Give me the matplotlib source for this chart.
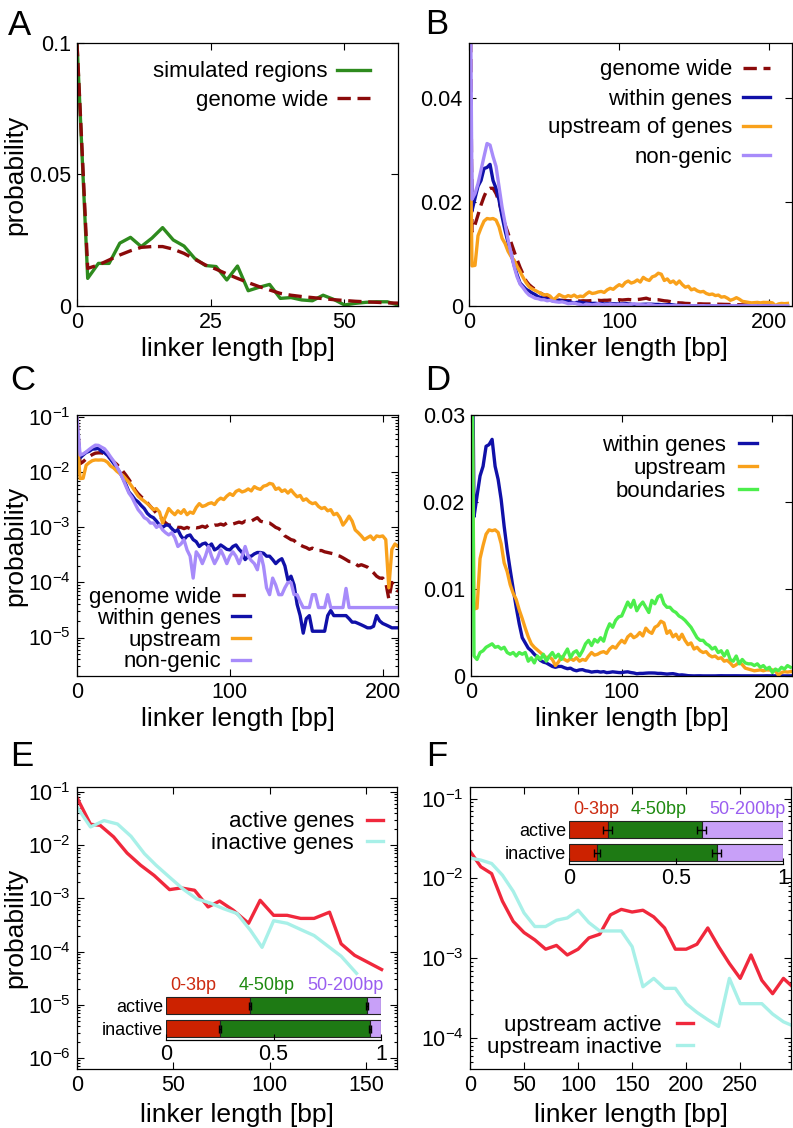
import numpy as np
import matplotlib
matplotlib.use('Agg')
import matplotlib.pyplot as plt
from matplotlib.ticker import MultipleLocator, FuncFormatter

plt.rcParams['font.family'] = ['Liberation Sans', 'DejaVu Sans']
plt.rcParams['mathtext.fontset'] = 'custom'
plt.rcParams['mathtext.rm'] = 'Liberation Sans'
plt.rcParams['axes.unicode_minus'] = False
plt.rcParams['axes.linewidth'] = 0.9

# ---- data ----
# panel A: simulated regions vs genome wide (2 bp bins)
sim_bp = np.arange(0, 61, 2)
simulated = [0.1, 0.0105, 0.0162, 0.0162, 0.0239, 0.0261, 0.0226, 0.0258, 0.0298, 0.0251,
             0.0228, 0.0181, 0.0154, 0.015, 0.0099, 0.0152, 0.0058, 0.0071, 0.0082, 0.0029,
             0.0032, 0.0023, 0.002, 0.0041, 0.0025, 0.0004, 0.001, 0.0014, 0.0016, 0.0016, 0.0004]

# panels B-D: linker length distributions (2 bp bins)
linker_bp = np.arange(0, 213, 2)
genome_wide = [0.1, 0.0143, 0.0156, 0.0175, 0.0194, 0.021, 0.0223, 0.0226, 0.0226, 0.0216,
               0.02, 0.0178, 0.0156, 0.014, 0.0122, 0.0105, 0.0089, 0.0074, 0.0061, 0.0048,
               0.0041, 0.0036, 0.0032, 0.0028, 0.0024, 0.0021, 0.0018, 0.0016, 0.0014, 0.0012,
               0.0011, 0.0011, 0.00105, 0.001, 0.001, 0.00095, 0.001, 0.00095, 0.001, 0.00098,
               0.001, 0.00105, 0.001, 0.0011, 0.00105, 0.0011, 0.0011, 0.00115, 0.0011, 0.0012,
               0.0012, 0.00115, 0.0012, 0.00125, 0.0012, 0.0013, 0.00125, 0.0013, 0.0014, 0.0015,
               0.0013, 0.00125, 0.0012, 0.0012, 0.0011, 0.001, 0.00095, 0.00085, 0.0007, 0.00065,
               0.0006, 0.00058, 0.0005, 0.00048, 0.00045, 0.00043, 0.0004, 0.00042, 0.00039, 0.00038,
               0.00038, 0.00036, 0.00035, 0.00034, 0.00033, 0.00031, 0.0003, 0.00028, 0.00026, 0.00024,
               0.00024, 0.00022, 0.0002, 0.00021, 0.0002, 0.00019, 0.00017, 0.00015, 0.00013, 0.00012,
               0.00012, 0.0001, 0.00005, 0.0001, 0.00008, 0.00007, 0.00007]
within_genes = [0.06, 0.0183, 0.0207, 0.023, 0.0241, 0.0264, 0.0266, 0.0272, 0.0241, 0.0226,
                0.0203, 0.0172, 0.0145, 0.0122, 0.01, 0.0079, 0.006, 0.0044, 0.0038, 0.0032,
                0.0029, 0.0025, 0.0022, 0.0018, 0.0016, 0.0015, 0.0013, 0.0011, 0.001, 0.0011,
                0.0011, 0.00095, 0.00084, 0.0009, 0.0007, 0.0006, 0.0007, 0.00073, 0.0006, 0.00055,
                0.00045, 0.0005, 0.00052, 0.00045, 0.0005, 0.00039, 0.00042, 0.00048, 0.00044, 0.0004,
                0.00039, 0.00045, 0.00048, 0.0004, 0.00035, 0.00026, 0.0003, 0.0003, 0.00033, 0.00035,
                0.00035, 0.00034, 0.0003, 0.0003, 0.00026, 0.00022, 0.00025, 0.00027, 0.0002, 0.00011,
                0.00013, 0.00009, 0.00004, 0.000025, 0.000012, 0.000022, 0.000025, 0.000013, 0.000013, 0.000013,
                0.000013, 0.000013, 0.000025, 0.000031, 0.000025, 0.000025, 0.000025, 0.000025, 0.000025, 0.000022,
                0.000019, 0.000019, 0.000018, 0.000017, 0.000016, 0.000015, 0.000015, 0.000016, 0.000025, 0.00002,
                0.000018, 0.000017, 0.000016, 0.000015, 0.000015, 0.000015, 0.000015]
upstream = [0.05, 0.0077, 0.0078, 0.0135, 0.015, 0.0163, 0.0168, 0.0167, 0.0168, 0.0165,
            0.0152, 0.013, 0.012, 0.0105, 0.0095, 0.0088, 0.0076, 0.0066, 0.0055, 0.0045,
            0.0037, 0.0033, 0.003, 0.0027, 0.0024, 0.0021, 0.0022, 0.0019, 0.0012, 0.0016,
            0.0022, 0.0019, 0.0017, 0.002, 0.0018, 0.0021, 0.0017, 0.0019, 0.0018, 0.0023,
            0.0027, 0.0024, 0.0025, 0.0027, 0.0028, 0.0026, 0.0031, 0.0034, 0.0032, 0.0037,
            0.0041, 0.0038, 0.0045, 0.0048, 0.0044, 0.0046, 0.005, 0.0046, 0.0055, 0.0051,
            0.0049, 0.0056, 0.0058, 0.0063, 0.0061, 0.0049, 0.0052, 0.0045, 0.0048, 0.0042,
            0.0048, 0.0041, 0.0036, 0.0038, 0.0031, 0.0033, 0.0029, 0.0027, 0.0028, 0.0024,
            0.0022, 0.0023, 0.002, 0.0021, 0.0017, 0.0018, 0.0015, 0.0011, 0.0013, 0.0016,
            0.0013, 0.0009, 0.0008, 0.0007, 0.0006, 0.00065, 0.0007, 0.0006, 0.0007, 0.00068,
            0.0007, 0.0006, 0.00008, 0.0004, 0.0005, 0.00045, 0.0005]
non_genic = [0.1, 0.0205, 0.0216, 0.0235, 0.0261, 0.0287, 0.0312, 0.0309, 0.0287, 0.0268,
             0.0229, 0.019, 0.0159, 0.0127, 0.0101, 0.0076, 0.0056, 0.0042, 0.0035, 0.0027,
             0.0021, 0.0018, 0.0015, 0.0014, 0.0012, 0.0012, 0.001, 0.0011, 0.0009, 0.0008,
             0.00073, 0.0008, 0.00065, 0.00045, 0.0005, 0.0006, 0.00039, 0.0003, 0.00012, 0.00036,
             0.0003, 0.00022, 0.0003, 0.00045, 0.0003, 0.00022, 0.00028, 0.00039, 0.0003, 0.00022,
             0.0003, 0.00036, 0.0003, 0.00022, 0.0003, 0.00045, 0.0003, 0.00025, 0.00022, 0.00017,
             0.00034, 0.0002, 0.00008, 0.00006, 0.00012, 0.00009, 0.00006, 0.00006, 0.00008, 0.0001,
             0.0001, 0.00006, 0.00006, 0.000045, 0.000035, 0.000035, 0.000035, 0.00006, 0.00006, 0.000035,
             0.000035, 0.000035, 0.00006, 0.000035, 0.000035, 0.000035, 0.000035, 0.000035, 0.000078, 0.000035,
             0.000035, 0.000035, 0.000035, 0.000035, 0.000035, 0.000035, 0.000035, 0.000035, 0.000035, 0.000035,
             0.000035, 0.000035, 0.000035, 0.000035, 0.000035, 0.000035, 0.000035]
boundaries = [0.06, 0.0023, 0.0019, 0.0027, 0.0029, 0.0033, 0.0035, 0.0037, 0.0033, 0.0034,
              0.0031, 0.0033, 0.0027, 0.0025, 0.0027, 0.0023, 0.0027, 0.0025, 0.0027, 0.0017,
              0.0021, 0.0015, 0.0023, 0.0019, 0.0025, 0.0017, 0.0023, 0.0027, 0.0021, 0.0025,
              0.0019, 0.0025, 0.0031, 0.0021, 0.0027, 0.0029, 0.0023, 0.0029, 0.0037, 0.0041,
              0.0035, 0.0042, 0.0039, 0.0044, 0.004, 0.0052, 0.006, 0.0056, 0.0064, 0.0068,
              0.0069, 0.0077, 0.0085, 0.0079, 0.0087, 0.0075, 0.0081, 0.0085, 0.0079, 0.0073,
              0.0087, 0.0083, 0.0091, 0.0093, 0.0083, 0.0079, 0.0079, 0.0075, 0.0073, 0.0069,
              0.0067, 0.0064, 0.006, 0.0056, 0.005, 0.0044, 0.0041, 0.0041, 0.0037, 0.0035,
              0.0031, 0.0033, 0.0027, 0.0029, 0.0023, 0.0029, 0.0019, 0.0017, 0.0023, 0.0014,
              0.0019, 0.0015, 0.0014, 0.0014, 0.0012, 0.0014, 0.001, 0.0012, 0.0008, 0.001,
              0.0004, 0.0008, 0.0006, 0.001, 0.0008, 0.0012, 0.001]

# panel E: active / inactive genes
active_bp = [0, 7, 12, 19, 26, 33, 40, 48, 54, 61, 68, 74, 81, 89, 95, 102, 109, 116, 123, 131, 137, 144, 158]
active_genes = [0.078, 0.0247, 0.0236, 0.0143, 0.0071, 0.0042, 0.0027, 0.00146, 0.00157, 0.00142,
                0.00069, 0.00089, 0.0006, 0.00034, 0.00092, 0.00048, 0.00048, 0.00042, 0.00042, 0.00055,
                0.00014, 0.000085, 0.000046]
inactive_bp = [0, 7, 14, 21, 28, 35, 41, 48, 55, 62, 69, 76, 83, 90, 96, 102, 109, 116, 123, 131, 137, 145]
inactive_genes = [0.052, 0.022, 0.029, 0.025, 0.0147, 0.0069, 0.0042, 0.0025, 0.0015, 0.00098,
                  0.00082, 0.00064, 0.00052, 0.00025, 0.00012, 0.00038, 0.00034, 0.00026, 0.0002, 0.00012,
                  0.000082, 0.000039]

# panel F: upstream of active / inactive genes (10 bp bins)
up_bp = np.arange(0, 301, 10)
up_active = [0.022, 0.014, 0.0115, 0.0052, 0.0029, 0.0021, 0.0017, 0.0013, 0.00145, 0.0011,
             0.0013, 0.0018, 0.002, 0.0035, 0.0041, 0.0038, 0.004, 0.0033, 0.0024, 0.0013,
             0.0013, 0.0015, 0.0024, 0.0014, 0.00086, 0.00056, 0.0011, 0.00053, 0.00036, 0.00056, 0.00042]
up_inactive = [0.018, 0.017, 0.0154, 0.011, 0.0069, 0.0037, 0.0025, 0.0025, 0.003, 0.0032,
               0.004, 0.0028, 0.0022, 0.0022, 0.0022, 0.0014, 0.00044, 0.00056, 0.00042, 0.00042,
               0.00027, 0.00021, 0.00017, 0.00014, 0.00056, 0.00027, 0.00027, 0.00027, 0.0002, 0.00016, 0.00014]

# insets: fraction of linkers per length class (rows: active, inactive)
bin_labels = ['0-3bp', '4-50bp', '50-200bp']
row_labels = ['active', 'inactive']
genes_frac = [[0.39, 0.25], [0.546, 0.70], [0.064, 0.05]]
genes_err = [[0.004, 0.004], [0.004, 0.004]]
upstream_frac = [[0.18, 0.13], [0.44, 0.56], [0.38, 0.31]]
upstream_err = [[0.019, 0.014], [0.02, 0.02]]

# ---- colours ----
c_sim = '#2e8b1e'
c_gw = '#8b0a0a'
c_wg = '#1010a8'
c_up = '#f9a11b'
c_ng = '#a78bfa'
c_bd = '#4cee4c'
c_act = '#f0283c'
c_ina = '#a8f0e8'
bar_colors = ['#cc2200', '#1e7a14', '#c8a0f8']
bin_text_colors = ['#cc2a10', '#1e8a10', '#9a5ef0']

W, H = 793, 1128
fig = plt.figure(figsize=(W / 100, H / 100), dpi=100)
LW = 2.4
DASH = (0, (4, 2))
fmt = FuncFormatter(lambda v, p: '%g' % v)


def box(l, t, r, b):
    return [l / W, 1 - b / H, (r - l) / W, (b - t) / H]


def style(ax, xstep, ylab=True, xlab_off=31):
    ax.tick_params(which='both', direction='in', top=True, right=True,
                   labelsize=15.5, width=0.8, pad=4.5)
    ax.tick_params(which='major', length=5)
    ax.tick_params(which='minor', length=2.5)
    ax.xaxis.set_major_locator(MultipleLocator(xstep))
    ax.xaxis.set_major_formatter(fmt)
    h = ax.get_position().height * H
    ax.set_xlabel('linker length [bp]', fontsize=19)
    ax.xaxis.set_label_coords(0.5, -xlab_off / h)
    if ylab:
        w = ax.get_position().width * W
        ax.set_ylabel('probability', fontsize=19)
        ax.yaxis.set_label_coords(-50 / w, 0.5)


def legend(ax, xr, yt, hl, pad, sp):
    ax.legend(loc='upper right', bbox_to_anchor=(xr / W, 1 - yt / H),
              bbox_transform=fig.transFigure, frameon=False, markerfirst=False,
              fontsize=16, handlelength=hl, handletextpad=pad, labelspacing=sp,
              borderpad=0, borderaxespad=0)


def letter(x, y, s):
    fig.text(x / W, 1 - y / H, s, fontsize=25, va='baseline', ha='left')


def inset(rect, frac, err, label_x):
    ia = fig.add_axes(rect)
    ia.patch.set_alpha(0)
    rows = [1, 0]
    left = np.zeros(2)
    for vals, col in zip(frac, bar_colors):
        ia.barh(rows, vals, left=left, height=0.74, color=col,
                edgecolor='#222222', linewidth=0.8)
        left = left + np.array(vals)
    bound1 = np.array(frac[0])
    bound2 = bound1 + np.array(frac[1])
    for bnd, e in zip([bound1, bound2], err):
        ia.errorbar(bnd, rows, xerr=e, fmt='none', ecolor='black',
                    elinewidth=1, capsize=3, capthick=1)
    for lab, col, (xx, ha) in zip(bin_labels, bin_text_colors, label_x):
        ia.text(xx, 1.85, lab, color=col, fontsize=13, ha=ha, va='center')
    ia.set_xlim(0, 1)
    ia.set_ylim(-0.5, 1.5)
    ia.set_yticks(rows)
    ia.set_yticklabels(row_labels, fontsize=13)
    ia.set_xticks([0, 0.5, 1])
    ia.xaxis.set_major_formatter(fmt)
    ia.tick_params(axis='y', length=0, pad=2)
    ia.tick_params(axis='x', direction='in', length=4, width=0.8, labelsize=15.5, pad=3)
    for s in ['top', 'left', 'right']:
        ia.spines[s].set_visible(False)
    return ia


# ---- A ----
axA = fig.add_axes(box(77, 43, 398, 306))
axA.plot(sim_bp, simulated, color=c_sim, lw=LW, label='simulated regions')
axA.plot(linker_bp[:31], genome_wide[:31], color=c_gw, lw=LW, ls=DASH, label='genome wide')
axA.set_xlim(0, 60)
axA.set_ylim(0, 0.1)
axA.yaxis.set_major_locator(MultipleLocator(0.05))
axA.yaxis.set_major_formatter(fmt)
style(axA, 25)
legend(axA, 370, 61.5, 1.5, 0.4, 0.32)
letter(8, 35, 'A')

# ---- B ----
axB = fig.add_axes(box(469, 43, 792, 306))
axB.plot(linker_bp, genome_wide, color=c_gw, lw=LW, ls=DASH, label='genome wide')
axB.plot(linker_bp, within_genes, color=c_wg, lw=LW, label='within genes')
axB.plot(linker_bp, upstream, color=c_up, lw=LW, label='upstream of genes')
axB.plot(linker_bp, non_genic, color=c_ng, lw=LW, label='non-genic')
axB.set_xlim(0, 215)
axB.set_ylim(0, 0.0505)
axB.yaxis.set_major_locator(MultipleLocator(0.02))
axB.yaxis.set_major_formatter(fmt)
style(axB, 100, ylab=False)
legend(axB, 770, 59.5, 1.2, 0.5, 0.36)
letter(425, 34, 'B')

# ---- C ----
axC = fig.add_axes(box(77, 415, 398, 676))
axC.plot(linker_bp, genome_wide, color=c_gw, lw=LW, ls=DASH, label='genome wide')
axC.plot(linker_bp, within_genes, color=c_wg, lw=LW, label='within genes')
axC.plot(linker_bp, upstream, color=c_up, lw=LW, label='upstream')
axC.plot(linker_bp, non_genic, color=c_ng, lw=LW, label='non-genic')
axC.set_yscale('log')
axC.set_xlim(0, 210)
axC.set_ylim(2e-6, 0.11)
style(axC, 100)
legend(axC, 250, 586.5, 0.8, 0.5, 0.03)
letter(10, 390, 'C')

# ---- D ----
axD = fig.add_axes(box(471, 415, 792, 676))
axD.plot(linker_bp, within_genes, color=c_wg, lw=LW, label='within genes')
axD.plot(linker_bp, upstream, color=c_up, lw=LW, label='upstream')
axD.plot(linker_bp, boundaries, color=c_bd, lw=LW, label='boundaries')
axD.set_xlim(0, 213)
axD.set_ylim(0, 0.03)
axD.yaxis.set_major_locator(MultipleLocator(0.01))
axD.yaxis.set_major_formatter(fmt)
style(axD, 100, ylab=False)
legend(axD, 757, 434.5, 0.8, 0.6, 0.1)
letter(425, 390, 'D')

# ---- E ----
axE = fig.add_axes(box(77, 787, 397, 1069))
axE.plot(active_bp, active_genes, color=c_act, lw=LW, label='active genes')
axE.plot(inactive_bp, inactive_genes, color=c_ina, lw=LW, label='inactive genes')
axE.set_yscale('log')
axE.set_xlim(0, 166)
axE.set_ylim(6.2e-7, 0.124)
style(axE, 50, xlab_off=34)
legend(axE, 383, 811.5, 0.7, 0.6, 0.0)
letter(10, 766, 'E')
inset(box(166, 994, 381, 1040), genes_frac, genes_err,
      [(0.02, 'left'), (0.47, 'center'), (1.01, 'right')])

# ---- F ----
axF = fig.add_axes(box(470, 787, 791, 1069))
axF.plot(up_bp, up_active, color=c_act, lw=LW, label='upstream active')
axF.plot(up_bp, up_inactive, color=c_ina, lw=LW, label='upstream inactive')
axF.set_yscale('log')
axF.set_xlim(0, 297)
axF.set_ylim(4.1e-5, 0.14)
style(axF, 50, ylab=False, xlab_off=34)
legend(axF, 693, 1014.5, 0.7, 0.7, 0.05)
letter(426, 766, 'F')
inset(box(569, 818, 783, 864), upstream_frac, upstream_err,
      [(0.02, 'left'), (0.42, 'center'), (1.01, 'right')])

fig.savefig('out.png', dpi=100)
